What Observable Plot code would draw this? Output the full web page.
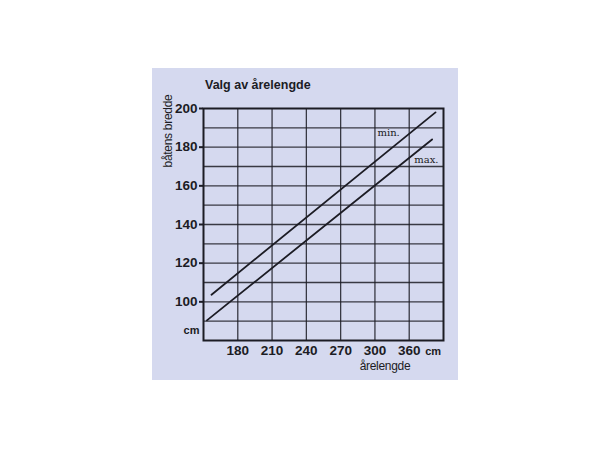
<!DOCTYPE html>
<html>
<head>
<meta charset="utf-8">
<script src="https://cdn.jsdelivr.net/npm/d3@7"></script>
<script src="https://cdn.jsdelivr.net/npm/@observablehq/plot@0.6"></script>
<style>
  body { margin: 0; background: #ffffff; }
  #wrap { position: relative; width: 610px; height: 450px; font-family: "Liberation Sans", Arial, sans-serif; }
  #panel { position: absolute; left: 152px; top: 68px; width: 306px; height: 312px; background: #d5d9ef; }
  #chart { position: absolute; left: 0; top: 0; }
  .lbl { position: absolute; color: #1c1c24; white-space: nowrap; line-height: 1; }
  #title { left: 205px; top: 79px; font-size: 12.5px; font-weight: bold; }
  #ylab { left: 168px; top: 131px; font-size: 12px; transform: translate(-50%, -50%) rotate(-90deg); transform-origin: center; letter-spacing: -0.3px; }
  #xlab { left: 385px; top: 360px; font-size: 12px; transform: translateX(-50%); letter-spacing: -0.3px; }
</style>
</head>
<body>
<div id="wrap">
  <div id="panel"></div>
  <div id="chart"></div>
  <div class="lbl" id="title">Valg av årelengde</div>
  <div class="lbl" id="ylab">båtens bredde</div>
  <div class="lbl" id="xlab">årelengde</div>
</div>
<script>
// Data
const xTicks = [180, 210, 240, 270, 300, 330];
const xTickLabels = ["180", "210", "240", "270", "300", "360"];
const yTicks = [100, 120, 140, 160, 180, 200];
const yGrid = [90, 100, 110, 120, 130, 140, 150, 160, 170, 180, 190];
const minX = [157, 353];
const minY = [103.7, 198];
const maxX = [153, 350];
const maxY = [90.4, 184];
const seriesLabels = ["min.", "max."];
const labelX = [312, 345];
const labelY = [187.4, 173.6];
const unitX = 344;

const minLine = minX.map((x, i) => ({x, y: minY[i]}));
const maxLine = maxX.map((x, i) => ({x, y: maxY[i]}));
const labels = seriesLabels.map((t, i) => ({t, x: labelX[i], y: labelY[i]}));

const ink = "#1c1c24";
const fmt = d => xTickLabels[xTicks.indexOf(d)];
const font = "Liberation Sans, Arial, sans-serif";

const chart = Plot.plot({
  width: 610,
  height: 450,
  marginLeft: 203,
  marginRight: 167,
  marginTop: 108,
  marginBottom: 110,
  style: {background: "transparent", color: ink},
  x: {domain: [150, 360], ticks: xTicks, tickFormat: fmt},
  y: {domain: [80, 200], ticks: yTicks},
  marks: [
    Plot.ruleX(xTicks, {stroke: ink, strokeWidth: 1.3, strokeOpacity: 0.85}),
    Plot.ruleY(yGrid, {stroke: ink, strokeWidth: 1.3, strokeOpacity: 0.85}),
    Plot.frame({stroke: ink, strokeWidth: 2}),
    Plot.line(minLine, {x: "x", y: "y", stroke: ink, strokeWidth: 1.8}),
    Plot.line(maxLine, {x: "x", y: "y", stroke: ink, strokeWidth: 1.8}),
    Plot.text(labels, {x: "x", y: "y", text: "t", fill: ink, fontSize: 10, fontFamily: "DejaVu Serif, serif", textAnchor: "middle"}),
    Plot.axisX(xTicks, {tickSize: 0, tickPadding: 5, tickFormat: fmt, label: null, fontSize: 13.5, fontWeight: "bold", fontFamily: font, fill: ink}),
    Plot.axisY(yTicks, {tickSize: 4, tickPadding: 2, label: null, fontSize: 13.5, fontWeight: "bold", fontFamily: font, fill: ink, stroke: ink, strokeWidth: 2}),
    Plot.text(["cm"], {x: unitX, y: 80, dy: 11, textAnchor: "start", fill: ink, fontSize: 11, fontWeight: "bold", fontFamily: font}),
    Plot.text(["cm"], {x: 150, y: 85, dx: -4, textAnchor: "end", fill: ink, fontSize: 11, fontWeight: "bold", fontFamily: font})
  ]
});
document.getElementById("chart").appendChild(chart);
</script>
</body>
</html>
